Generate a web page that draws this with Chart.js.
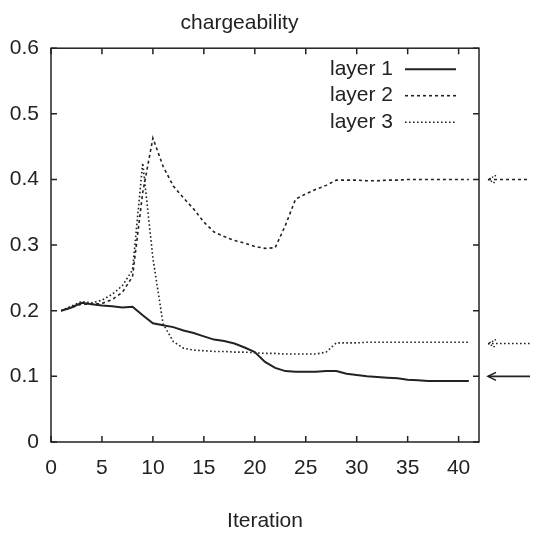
<!DOCTYPE html>
<html>
<head>
<meta charset="utf-8">
<script src="https://cdn.jsdelivr.net/npm/chart.js@4/dist/chart.umd.min.js"></script>
<style>
  html, body { margin: 0; padding: 0; background: #fff; }
  #wrap { width: 540px; height: 534px; }
</style>
</head>
<body>
<div id="wrap"><canvas id="myChart" width="540" height="534"></canvas></div>
<script>
// iteration numbers and values
var iterations = [1, 2, 3, 4, 5, 6, 7, 8, 9, 10, 11, 12, 13, 14, 15, 16, 17, 18, 19, 20,
  21, 22, 23, 24, 25, 26, 27, 28, 29, 30, 31, 32, 33, 34, 35, 36, 37, 38, 39, 40, 41];
var layer1 = [0.200, 0.205, 0.212, 0.210, 0.208, 0.207, 0.205, 0.206, 0.193, 0.181,
  0.178, 0.175, 0.170, 0.166, 0.161, 0.156, 0.154, 0.150, 0.144, 0.137,
  0.122, 0.113, 0.108, 0.107, 0.107, 0.107, 0.108, 0.108, 0.104, 0.102,
  0.100, 0.099, 0.098, 0.097, 0.095, 0.094, 0.093, 0.093, 0.093, 0.093, 0.093];
var layer2 = [0.200, 0.205, 0.210, 0.210, 0.211, 0.217, 0.228, 0.252, 0.380, 0.463,
  0.420, 0.390, 0.372, 0.355, 0.335, 0.320, 0.313, 0.307, 0.303, 0.298,
  0.295, 0.296, 0.330, 0.370, 0.378, 0.385, 0.391, 0.399, 0.399, 0.399,
  0.398, 0.398, 0.399, 0.399, 0.400, 0.400, 0.400, 0.400, 0.400, 0.400, 0.400];
var layer3 = [0.200, 0.207, 0.214, 0.212, 0.216, 0.225, 0.238, 0.262, 0.425, 0.280,
  0.180, 0.153, 0.143, 0.140, 0.139, 0.138, 0.138, 0.137, 0.137, 0.136,
  0.135, 0.135, 0.134, 0.134, 0.134, 0.134, 0.137, 0.151, 0.151, 0.151,
  0.152, 0.152, 0.152, 0.152, 0.152, 0.152, 0.152, 0.152, 0.152, 0.152, 0.152];
var labels = ['layer 1', 'layer 2', 'layer 3'];
// true values marked by the arrows at the right
var trueValues = [0.1, 0.4, 0.15];
var xTicks = [0, 5, 10, 15, 20, 25, 30, 35, 40];
var yTicks = [0, 0.1, 0.2, 0.3, 0.4, 0.5, 0.6];

var ink = '#222';
var fontFamily = "'Liberation Sans Narrow', 'Liberation Sans', Arial, sans-serif";
var dashes = [[], [3, 3], [1.6, 2.4]];
var widths = [2, 1.6, 1.6];

function toPoints(values) {
  return values.map(function (v, i) { return { x: iterations[i], y: v }; });
}

// box frame with inward ticks on all four sides (gnuplot look)
const framePlugin = {
  id: 'frame',
  afterDraw(chart) {
    const c = chart.ctx;
    const a = chart.chartArea;
    const xs = chart.scales.x;
    const ys = chart.scales.y;
    const tl = 6;
    c.save();
    c.strokeStyle = ink;
    c.lineWidth = 1.5;
    c.strokeRect(a.left, a.top, a.right - a.left, a.bottom - a.top);
    c.beginPath();
    xTicks.forEach(function (t) {
      const px = xs.getPixelForValue(t);
      c.moveTo(px, a.bottom); c.lineTo(px, a.bottom - tl);
      c.moveTo(px, a.top); c.lineTo(px, a.top + tl);
    });
    yTicks.forEach(function (t) {
      const py = ys.getPixelForValue(t);
      c.moveTo(a.left, py); c.lineTo(a.left + tl, py);
      c.moveTo(a.right, py); c.lineTo(a.right - tl, py);
    });
    c.stroke();
    c.restore();
  }
};

// legend drawn inside the box, text on the left of the line sample
const legendPlugin = {
  id: 'boxLegend',
  afterDraw(chart) {
    const c = chart.ctx;
    const a = chart.chartArea;
    c.save();
    c.font = '21px ' + fontFamily;
    c.fillStyle = ink;
    c.textAlign = 'right';
    c.textBaseline = 'middle';
    chart.data.datasets.forEach(function (ds, i) {
      const y = a.top + 21 + i * 26.5;
      c.fillText(ds.label, a.right - 86, y);
      c.beginPath();
      c.setLineDash(ds.borderDash);
      c.lineWidth = ds.borderWidth;
      c.strokeStyle = ds.borderColor;
      c.moveTo(a.right - 74, y);
      c.lineTo(a.right - 23, y);
      c.stroke();
    });
    c.restore();
  }
};

// arrows outside the right edge pointing at the true values
const arrowPlugin = {
  id: 'arrows',
  afterDraw(chart) {
    const c = chart.ctx;
    const a = chart.chartArea;
    const ys = chart.scales.y;
    c.save();
    trueValues.forEach(function (v, i) {
      const y = ys.getPixelForValue(v);
      const x0 = a.right + 9;
      const x1 = a.right + 51;
      c.strokeStyle = ink;
      c.lineWidth = i === 0 ? 1.6 : 1.4;
      c.setLineDash(dashes[i]);
      c.beginPath();
      c.moveTo(x0, y); c.lineTo(x1, y);
      c.stroke();
      c.setLineDash(i === 0 ? [] : [1.5, 1.5]);
      c.beginPath();
      c.moveTo(x0 + 8, y - 4); c.lineTo(x0, y); c.lineTo(x0 + 8, y + 4);
      c.stroke();
    });
    c.restore();
  }
};

const data = {
  datasets: [layer1, layer2, layer3].map(function (vals, i) {
    return {
      label: labels[i],
      data: toPoints(vals),
      borderColor: ink,
      borderWidth: widths[i],
      borderDash: dashes[i],
      pointRadius: 0,
      tension: 0,
      fill: false
    };
  })
};

const config = {
  type: 'line',
  data: data,
  options: {
    responsive: false,
    animation: false,
    layout: { padding: { left: 0, right: 61, top: 0, bottom: 0 } },
    plugins: {
      legend: { display: false },
      tooltip: { enabled: false },
      title: {
        display: true,
        text: 'chargeability',
        color: ink,
        font: { family: fontFamily, size: 21, weight: 'normal' },
        padding: { top: 11, bottom: 12 }
      }
    },
    scales: {
      x: {
        type: 'linear',
        min: 0,
        max: 42,
        grid: { display: false, drawTicks: false },
        border: { display: false },
        ticks: {
          stepSize: 5,
          includeBounds: false,
          padding: 14,
          color: ink,
          font: { family: fontFamily, size: 21 }
        },
        title: {
          display: true,
          text: 'Iteration',
          color: ink,
          font: { family: fontFamily, size: 21 },
          padding: { top: 0, bottom: 0 }
        },
        afterFit: function (scale) { scale.height = 92; }
      },
      y: {
        min: 0,
        max: 0.6,
        grid: { display: false, drawTicks: false },
        border: { display: false },
        ticks: {
          stepSize: 0.1,
          padding: 12,
          color: ink,
          font: { family: fontFamily, size: 21 },
          callback: function (v) { return Math.round(v * 10) / 10; }
        },
        afterFit: function (scale) { scale.width = 51; }
      }
    }
  },
  plugins: [framePlugin, legendPlugin, arrowPlugin]
};

new Chart(document.getElementById('myChart'), config);
</script>
</body>
</html>
